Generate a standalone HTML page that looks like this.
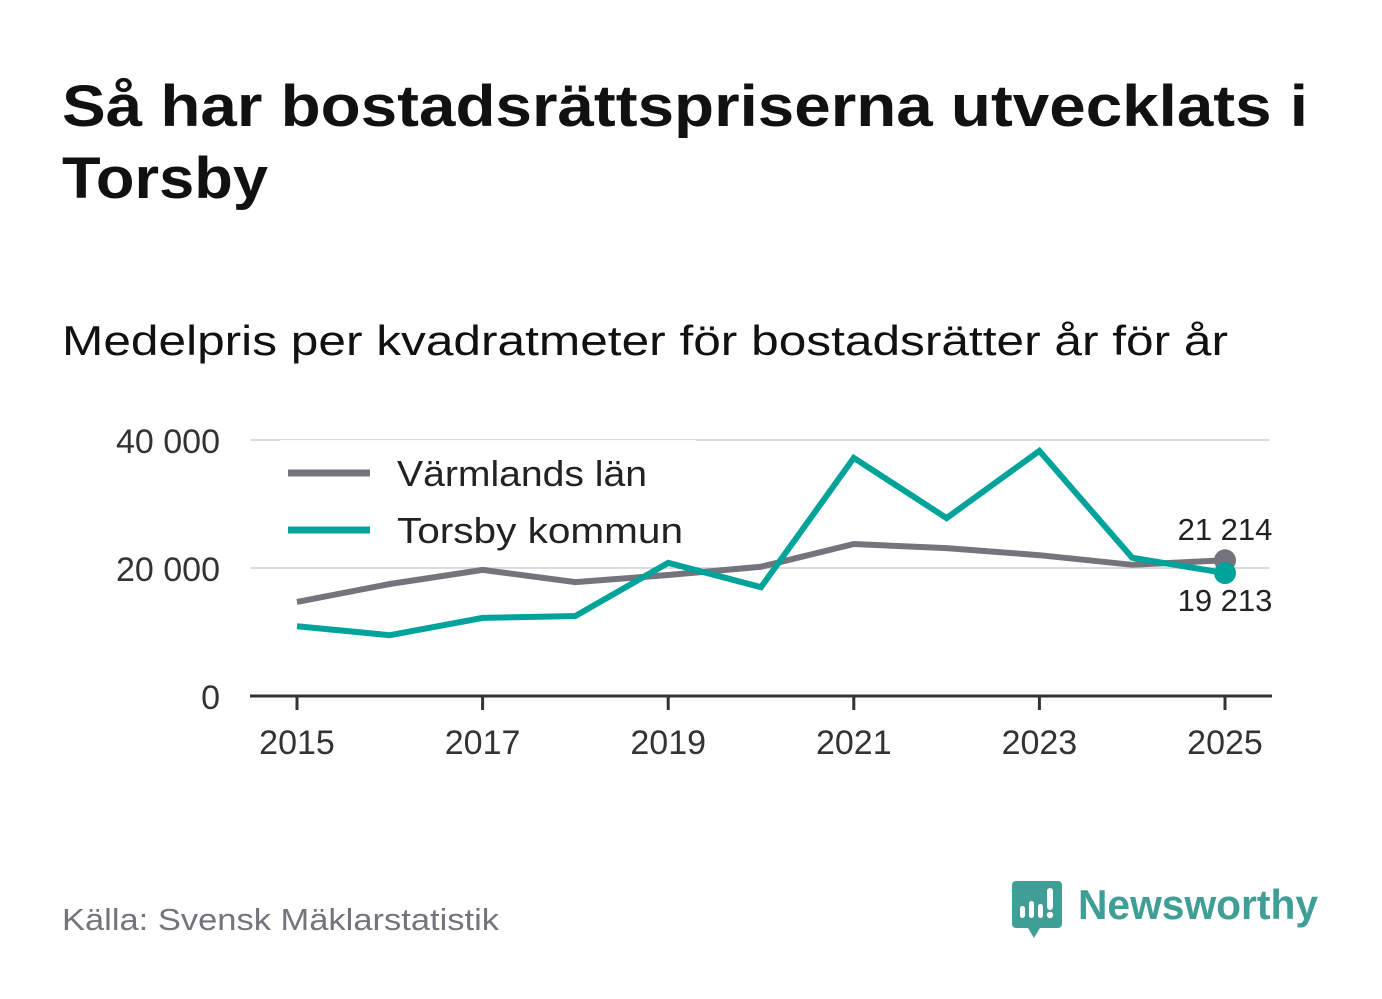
<!DOCTYPE html>
<html><head><meta charset="utf-8"><style>
html,body{margin:0;padding:0;background:#fff;}
svg{display:block;font-family:"Liberation Sans",sans-serif;}
</style></head><body>
<svg id="chart" width="1382" height="999" viewBox="0 0 1382 999">
<text x="62" y="126" font-size="58" font-weight="bold" fill="#111" textLength="1246" lengthAdjust="spacingAndGlyphs">Så har bostadsrättspriserna utvecklats i</text>
<text x="62" y="198" font-size="58" font-weight="bold" fill="#111" textLength="206" lengthAdjust="spacingAndGlyphs">Torsby</text>
<text x="62" y="355" font-size="42" fill="#111" textLength="1166" lengthAdjust="spacingAndGlyphs">Medelpris per kvadratmeter för bostadsrätter år för år</text>
<g id="grid"></g>
<g id="ylabels"></g>
<g id="xaxis"></g>
<g id="series"></g>
<g>
<rect x="280" y="440" width="416" height="118" fill="#fff" fill-opacity="0.9"/>
<line x1="288" y1="473" x2="370" y2="473" stroke="#75737b" stroke-width="7"/>
<text x="397" y="486" font-size="36" fill="#222" textLength="250" lengthAdjust="spacingAndGlyphs">Värmlands län</text>
<line x1="288" y1="530" x2="370" y2="530" stroke="#00a39a" stroke-width="7"/>
<text x="397" y="543" font-size="36" fill="#222" textLength="286" lengthAdjust="spacingAndGlyphs">Torsby kommun</text>
</g>
<g id="endlabels"></g>
<text x="62" y="930" font-size="31" fill="#75737b" textLength="437" lengthAdjust="spacingAndGlyphs">Källa: Svensk Mäklarstatistik</text>
<g>
<path d="M1016 881 h42 a4 4 0 0 1 4 4 v39 a4 4 0 0 1 -4 4 h-18 l-6 10 l-6 -10 h-12 a4 4 0 0 1 -4 -4 v-39 a4 4 0 0 1 4 -4z" fill="#3f9e96"/>
<rect x="1020" y="906" width="5" height="12" rx="2.5" fill="#fff"/>
<rect x="1029" y="901" width="5" height="17" rx="2.5" fill="#fff"/>
<rect x="1038" y="904" width="5" height="14" rx="2.5" fill="#fff"/>
<rect x="1047" y="888" width="6" height="22" rx="3" fill="#fff"/>
<circle cx="1050" cy="915" r="3.2" fill="#fff"/>
<text x="1078" y="919" font-size="42" font-weight="bold" fill="#3f9e96" textLength="240" lengthAdjust="spacingAndGlyphs">Newsworthy</text>
</g>
</svg>
<script>
const years=[2015,2016,2017,2018,2019,2020,2021,2022,2023,2024,2025];
const varmland=[14700,17500,19700,17800,18900,20200,23750,23100,22000,20500,21214];
const torsby=[10900,9500,12200,12500,20800,17000,37200,27800,38300,21600,19213];
const yTicks=[0,20000,40000];
const yTickLabels=["0","20 000","40 000"];
const xTicks=[2015,2017,2019,2021,2023,2025];
const NS="http://www.w3.org/2000/svg";
const X=y=>297+(y-2015)*92.8;
const Y=v=>696-v*256/40000;
function mk(tag,attrs,parent){const e=document.createElementNS(NS,tag);for(const k in attrs)e.setAttribute(k,attrs[k]);parent.appendChild(e);return e;}
const grid=document.getElementById('grid'),yl=document.getElementById('ylabels'),xa=document.getElementById('xaxis'),ser=document.getElementById('series'),el=document.getElementById('endlabels');
yTicks.forEach((t,i)=>{
 if(t>0){const g=mk('line',{x1:250,x2:1270,y1:Y(t),y2:Y(t),stroke:'#dcdcdc','stroke-width':2},grid);
 
 }
 const tx=mk('text',{x:220,y:Y(t)+13,'font-size':34,fill:'#333','text-anchor':'end'},yl);tx.textContent=yTickLabels[i];
 
 
});
const ax=mk('line',{x1:250,x2:1272,y1:Y(0),y2:Y(0),stroke:'#333','stroke-width':3},xa);


xTicks.forEach(t=>{
 const tk=mk('line',{x1:X(t),x2:X(t),y1:Y(0),y2:Y(0)+14,stroke:'#333','stroke-width':3},xa);
 
 
 const tx=mk('text',{x:X(t),y:Y(0)+58,'font-size':34,fill:'#333','text-anchor':'middle'},xa);tx.textContent=t;
 
 
});
function line(vals,color,name){
 const d=vals.map((v,i)=>(i?'L':'M')+X(years[i])+' '+Y(v)).join(' ');
 const p=mk('path',{d:d,fill:'none',stroke:color,'stroke-width':6,'stroke-linejoin':'miter'},ser);
 
 
 const n=vals.length-1;
 const c=mk('circle',{cx:X(years[n]),cy:Y(vals[n]),r:11,fill:color},ser);
 
 
}
line(varmland,'#75737b','varmland');
line(torsby,'#00a39a','torsby');
const fmt=v=>String(Math.round(v)).replace(/\B(?=(\d{3})+(?!\d))/g,' ');
const n=years.length-1;
const hi=varmland[n]>=torsby[n];
const t1=mk('text',{x:X(years[n]),y:Y(Math.max(varmland[n],torsby[n]))-20,'font-size':31,fill:'#222','text-anchor':'middle'},el);
t1.textContent=fmt(hi?varmland[n]:torsby[n]);


const t2=mk('text',{x:X(years[n]),y:Y(Math.min(varmland[n],torsby[n]))+38,'font-size':31,fill:'#222','text-anchor':'middle'},el);
t2.textContent=fmt(hi?torsby[n]:varmland[n]);


</script>
</body></html>
